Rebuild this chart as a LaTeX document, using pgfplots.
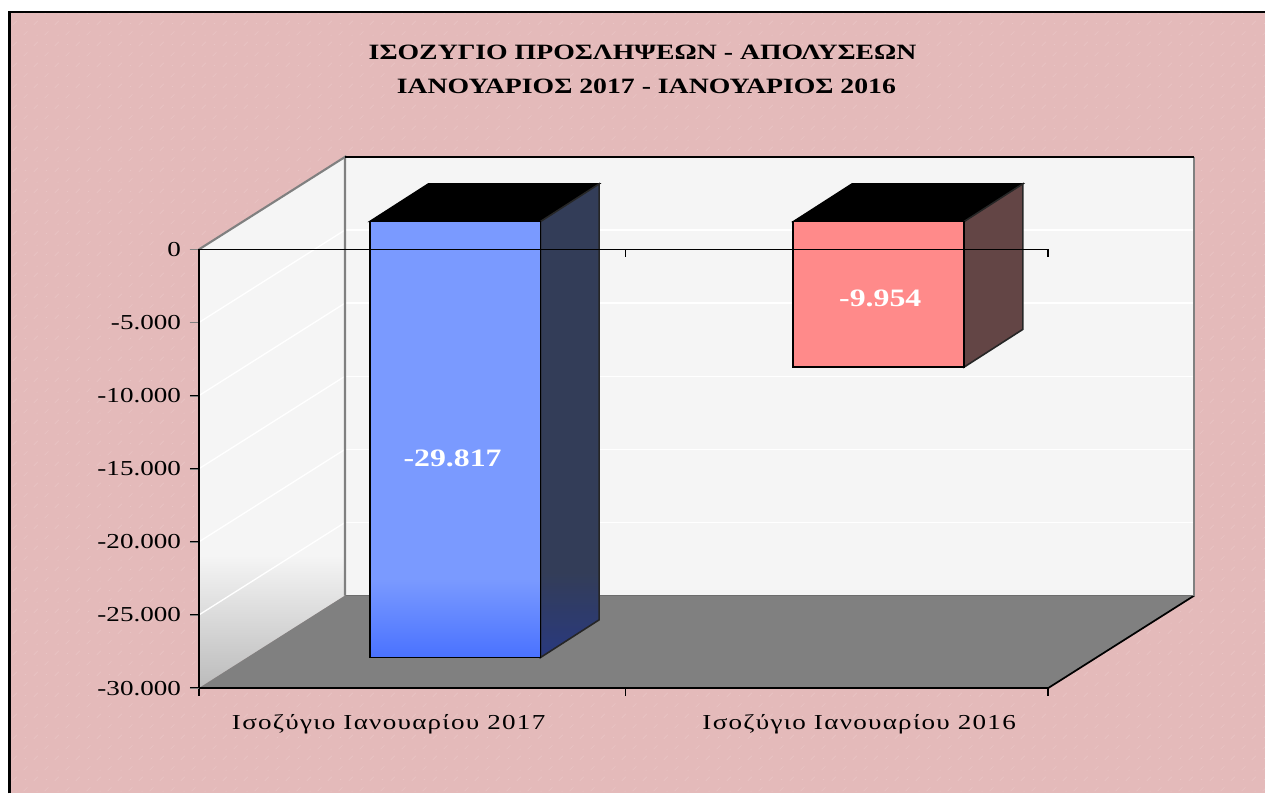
\documentclass[border=0pt]{standalone}
\usepackage{pgfplots}
\pgfplotsset{compat=1.18}
\usetikzlibrary{patterns}
\usepackage{fontspec}
\setmainfont[FakeStretch=1.27]{Liberation Serif}
\newfontfamily\xlabfont[FakeStretch=1.27,LetterSpace=6]{Liberation Serif}
\definecolor{pinkbg}{HTML}{E4BABA}
\definecolor{flecks}{HTML}{E9C4C4}
\definecolor{wall}{HTML}{F5F5F5}
\definecolor{wallb}{HTML}{BBBBBB}
\definecolor{floorc}{HTML}{808080}
\definecolor{blue1}{HTML}{7A9AFF}
\definecolor{blue2}{HTML}{4A72FF}
\definecolor{blues1}{HTML}{333D58}
\definecolor{blues2}{HTML}{29397F}
\definecolor{red1}{HTML}{FF8A8A}
\definecolor{reds}{HTML}{634545}
\pgfdeclareverticalshading{sidewall}{100bp}{color(0bp)=(wallb);color(25bp)=(wallb);color(37.5bp)=(wall);color(100bp)=(wall)}
\pgfdeclareverticalshading{bluefront}{100bp}{color(0bp)=(blue2);color(25bp)=(blue2);color(34bp)=(blue1);color(100bp)=(blue1)}
\pgfdeclareverticalshading{blueside}{100bp}{color(0bp)=(blues2);color(25bp)=(blues2);color(34bp)=(blues1);color(100bp)=(blues1)}
\pgfdeclarepatternformonly{paper}{\pgfqpoint{0pt}{0pt}}{\pgfqpoint{16pt}{16pt}}{\pgfqpoint{16pt}{16pt}}{%
  \pgfsetlinewidth{0.5pt}%
  \pgfpathmoveto{\pgfqpoint{2pt}{3pt}}\pgfpathlineto{\pgfqpoint{5pt}{6pt}}%
  \pgfpathmoveto{\pgfqpoint{10pt}{11pt}}\pgfpathlineto{\pgfqpoint{13pt}{14pt}}%
  \pgfpathmoveto{\pgfqpoint{12pt}{3pt}}\pgfpathlineto{\pgfqpoint{13pt}{3pt}}%
  \pgfpathmoveto{\pgfqpoint{3pt}{12pt}}\pgfpathlineto{\pgfqpoint{4pt}{12pt}}%
  \pgfusepath{stroke}}
\begin{document}
\begin{tikzpicture}
\begin{axis}[
  scale only axis,
  width=637.5pt, height=329.25pt,
  xmin=0, xmax=2, ymin=-30000, ymax=0,
  clip=false,
  axis on top=true,
  scaled y ticks=false,
  axis x line*=bottom, axis y line*=left,
  axis line style={black, line width=1.2pt, -},
  tick align=outside,
  major tick length=6.75pt,
  xtick={0.447,1.555},
  x tick style={draw=none},
  xticklabels={Ισοζύγιο Ιανουαρίου 2017,Ισοζύγιο Ιανουαρίου 2016},
  ytick={0,-5000,-10000,-15000,-20000,-25000,-30000},
  yticklabels={0,-5.000,-10.000,-15.000,-20.000,-25.000,-30.000},
  tick label style={font=\fontsize{16}{18}\selectfont},
  yticklabel style={inner sep=0pt, xshift=-6.5pt},
  xticklabel style={inner sep=0pt, yshift=-13pt, font=\xlabfont\fontsize{16}{18}\selectfont},
]
% page
\addplot[fill=white, draw=none] coordinates {(-0.46824,17064) (2.51059,17064) (2.51059,-37196) (-0.46824,-37196)} -- cycle;
\addplot[fill=pinkbg, draw=none] coordinates {(-0.4459,16244) (2.51059,16244) (2.51059,-37196) (-0.4459,-37196)} -- cycle;
\addplot[pattern=paper, pattern color=flecks, draw=none] coordinates {(-0.4459,16244) (2.51059,16244) (2.51059,-37196) (-0.4459,-37196)} -- cycle;
\addplot[draw=black, line width=1.6pt] coordinates {(-0.4459,-37196) (-0.4459,16244) (2.51059,16244)};
% back wall
\addplot[fill=wall, draw=none] coordinates {(0.3442,6330) (2.3442,6330) (2.3442,-23670) (0.3442,-23670)} -- cycle;
% back wall grid
\addplot[draw=white, line width=1pt] coordinates {(0.3442,1330) (2.3442,1330)};
\addplot[draw=white, line width=1pt] coordinates {(0.3442,-3670) (2.3442,-3670)};
\addplot[draw=white, line width=1pt] coordinates {(0.3442,-8670) (2.3442,-8670)};
\addplot[draw=white, line width=1pt] coordinates {(0.3442,-13670) (2.3442,-13670)};
\addplot[draw=white, line width=1pt] coordinates {(0.3442,-18670) (2.3442,-18670)};
% side wall
\addplot[shade, shading=sidewall, draw=none] coordinates {(0,0) (0.3442,6330) (0.3442,-23670) (0,-30000)} -- cycle;
\addplot[draw=white, line width=1pt] coordinates {(0,-5000) (0.3442,1330)};
\addplot[draw=white, line width=1pt] coordinates {(0,-10000) (0.3442,-3670)};
\addplot[draw=white, line width=1pt] coordinates {(0,-15000) (0.3442,-8670)};
\addplot[draw=white, line width=1pt] coordinates {(0,-20000) (0.3442,-13670)};
\addplot[draw=white, line width=1pt] coordinates {(0,-25000) (0.3442,-18670)};
% floor
\addplot[fill=floorc, draw=none] coordinates {(0,-30000) (2,-30000) (2.3442,-23670) (0.3442,-23670)} -- cycle;
\addplot[draw=black, line width=1.3pt] coordinates {(2,-30000) (2.3442,-23670)};
\addplot[draw=floorc!85!black, line width=0.8pt] coordinates {(0.3442,-23670) (2.3442,-23670)};
\addplot[draw=floorc, line width=1.6pt] coordinates {(0,0) (0.3442,6330) (0.3442,-23670)};
\addplot[draw=floorc, line width=1.6pt] coordinates {(2.3442,6330) (2.3442,-23670)};
\addplot[draw=black, line width=1.3pt] coordinates {(0.3442,6330) (2.3442,6330)};
% bar 1 : -29817
\addplot[fill=black, draw=black, line width=1pt] coordinates {(0.4023,1913) (0.8047,1913) (0.9428,4489) (0.5404,4489)} -- cycle;
\addplot[shade, shading=blueside, draw=none] coordinates {(0.8047,1913) (0.9428,4489) (0.9428,-25328) (0.8047,-27904)} -- cycle;
\addplot[draw=black!85, line width=1.2pt] coordinates {(0.8047,1913) (0.9428,4489) (0.9428,-25328) (0.8047,-27904)} -- cycle;
\addplot[shade, shading=bluefront, draw=none] coordinates {(0.4023,1913) (0.8047,1913) (0.8047,-27904) (0.4023,-27904)} -- cycle;
\addplot[draw=black, line width=1.4pt] coordinates {(0.4023,1913) (0.8047,1913) (0.8047,-27904) (0.4023,-27904)} -- cycle;
% bar 2 : -9954
\addplot[fill=black, draw=black, line width=1pt] coordinates {(1.4000,1913) (1.8023,1913) (1.9404,4489) (1.5381,4489)} -- cycle;
\addplot[fill=reds, draw=black!85, line width=1.2pt] coordinates {(1.8023,1913) (1.9404,4489) (1.9404,-5465) (1.8023,-8041)} -- cycle;
\addplot[fill=red1, draw=black, line width=1.4pt] coordinates {(1.4000,1913) (1.8023,1913) (1.8023,-8041) (1.4000,-8041)} -- cycle;
% axis lines and ticks, over the walls and bars
\addplot[draw=black, line width=1.4pt] coordinates {(0,0) (2,0)};
\addplot[draw=black, line width=1.4pt] coordinates {(0,-30000) (2,-30000)};
\addplot[draw=black, line width=1.4pt] coordinates {(0,0) (0,-30560)};
\addplot[draw=black, line width=1.1pt] coordinates {(1.005,0) (1.005,-546)};
\addplot[draw=black, line width=1.1pt] coordinates {(2,0) (2,-546)};
\addplot[draw=black, line width=1.1pt] coordinates {(1.005,-30000) (1.005,-30546)};
\addplot[draw=black, line width=1.1pt] coordinates {(2,-30000) (2,-30546)};
\addplot[draw=black, line width=1.1pt] coordinates {(-0.0212,0) (0,0)};
\addplot[draw=black, line width=1.1pt] coordinates {(-0.0212,-5000) (0,-5000)};
\addplot[draw=black, line width=1.1pt] coordinates {(-0.0212,-10000) (0,-10000)};
\addplot[draw=black, line width=1.1pt] coordinates {(-0.0212,-15000) (0,-15000)};
\addplot[draw=black, line width=1.1pt] coordinates {(-0.0212,-20000) (0,-20000)};
\addplot[draw=black, line width=1.1pt] coordinates {(-0.0212,-25000) (0,-25000)};
\addplot[draw=black, line width=1.1pt] coordinates {(-0.0212,-30000) (0,-30000)};
% texts
\node[font=\bfseries\fontsize{16.4}{18}\selectfont, inner sep=0pt] at (axis cs:1.045,13462) {ΙΣΟΖΥΓΙΟ ΠΡΟΣΛΗΨΕΩΝ - ΑΠΟΛΥΣΕΩΝ};
\node[font=\bfseries\fontsize{16.4}{18}\selectfont, inner sep=0pt] at (axis cs:1.054,11139) {ΙΑΝΟΥΑΡΙΟΣ 2017 - ΙΑΝΟΥΑΡΙΟΣ 2016};
\node[font=\bfseries\fontsize{18.8}{20}\selectfont, text=white, inner sep=0pt] at (axis cs:0.5976,-14282) {-29.817};
\node[font=\bfseries\fontsize{18.8}{20}\selectfont, text=white, inner sep=0pt] at (axis cs:1.6047,-3350) {-9.954};
\end{axis}
\end{tikzpicture}
\end{document}
